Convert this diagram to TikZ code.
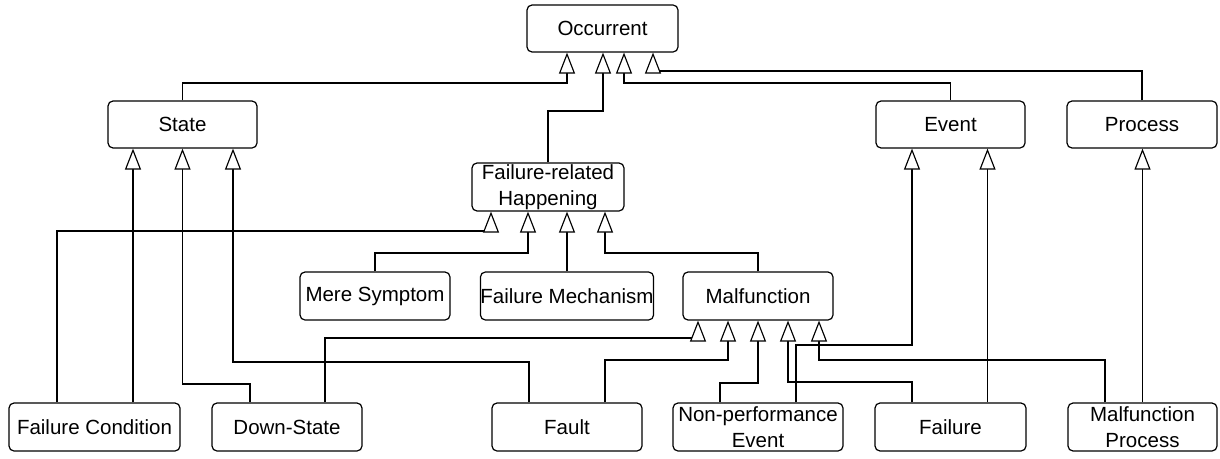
\documentclass[tikz,border=0pt]{standalone}
\usepackage{fontspec}
\setmainfont{Liberation Sans}
\usetikzlibrary{arrows.meta}
\begin{document}
\begin{tikzpicture}[x=1pt,y=-1pt,
  box/.style={draw, line width=1.2pt, rounded corners=5pt, fill=white,
    minimum height=47pt, align=center, inner sep=0pt,
    font=\fontsize{20.5}{25.5}\selectfont},
  inh/.style={line width=1.15pt, -{Triangle[open, length=21pt, width=16pt, fill=white]}}]
\fill[white] (0,0) rectangle (1220,458);
\useasboundingbox (0,0) rectangle (1220,458);
% nodes
\node[box, minimum width=151pt] (occ) at (602.5,28.5) {Occurrent};
\node[box, minimum width=149pt] (state) at (182.5,124.5) {State};
\node[box, minimum width=149pt] (event) at (950.5,124.5) {Event};
\node[box, minimum width=150pt] (process) at (1142,124.5) {Process};
\node[box, minimum width=152pt, minimum height=48pt] (frh) at (548,187) {Failure-related\\Happening};
\node[box, minimum width=150pt, minimum height=48pt] (ms) at (375,296) {Mere Symptom};
\node[box, minimum width=170pt, minimum height=48pt] (fm) at (567,296) {Failure Mechanism};
\node[box, minimum width=150pt, minimum height=48pt] (malf) at (758,296) {Malfunction};
\node[box, minimum width=171pt, minimum height=48pt] (fc) at (94.5,427) {Failure Condition};
\node[box, minimum width=150pt, minimum height=48pt] (ds) at (287,427) {Down-State};
\node[box, minimum width=150pt, minimum height=48pt] (fault) at (567,427) {Fault};
\node[box, minimum width=170pt, minimum height=48pt] (npe) at (758,427) {Non-performance\\Event};
\node[box, minimum width=151pt, minimum height=48pt] (failure) at (950.5,427) {Failure};
\node[box, minimum width=149pt, minimum height=48pt] (mp) at (1142.5,427) {Malfunction\\Process};
% connectors to Occurrent
\draw[inh] (state.north) |- (567,83) -- ([xshift=-35.5pt]occ.south);
\draw[inh] (frh.north) |- (603,111) -- ([xshift=0.5pt]occ.south);
\draw[inh] (event.north) |- (624,83) -- ([xshift=21.5pt]occ.south);
\draw[inh] (process.north) |- (653,71) -- ([xshift=50.5pt]occ.south);
% to State
\draw[inh] ([xshift=38.5pt]fc.north) -- ([xshift=-49.5pt]state.south);
\draw[inh] ([xshift=-37pt]ds.north) |- (182.5,384) -- (state.south);
\draw[inh] ([xshift=-38pt]fault.north) |- (233,362) -- ([xshift=50.5pt]state.south);
% to Failure-related Happening
\draw[inh] ([xshift=-37.5pt]fc.north) |- (491,231) -- ([xshift=-57pt]frh.south);
\draw[inh] (ms.north) |- (528,253) -- ([xshift=-20pt]frh.south);
\draw[inh] (fm.north) -- ([xshift=19pt]frh.south);
\draw[inh] (malf.north) |- (605,253) -- ([xshift=57pt]frh.south);
% to Malfunction
\draw[inh] ([xshift=38pt]ds.north) |- (698,338) -- ([xshift=-60pt]malf.south);
\draw[inh] ([xshift=38pt]fault.north) |- (728,360) -- ([xshift=-30pt]malf.south);
\draw[inh] ([xshift=-38pt]npe.north) |- (758,383) -- (malf.south);
\draw[inh] ([xshift=-38.5pt]failure.north) |- (788,382) -- ([xshift=30pt]malf.south);
\draw[inh] ([xshift=-37.5pt]mp.north) |- (819,360) -- ([xshift=61pt]malf.south);
% to Event and Process
\draw[inh] ([xshift=38pt]npe.north) |- (912,345) -- ([xshift=-38.5pt]event.south);
\draw[inh] ([xshift=37pt]failure.north) -- ([xshift=37pt]event.south);
\draw[inh] (mp.north) -- ([xshift=0.5pt]process.south);
\end{tikzpicture}
\end{document}
